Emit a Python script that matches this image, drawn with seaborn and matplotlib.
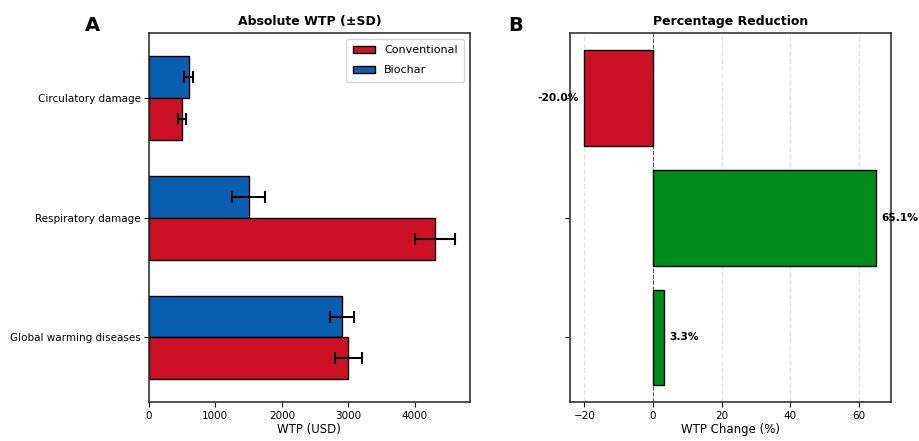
import matplotlib
matplotlib.use("Agg")
import matplotlib.pyplot as plt
import seaborn as sns
import pandas as pd
import numpy as np

categories = ["Circulatory damage", "Respiratory damage", "Global warming diseases"]
conventional = [500, 4300, 3000]
conventional_sd = [55, 300, 200]
biochar = [600, 1500, 2900]
biochar_sd = [65, 250, 180]
pct_change = [-20.0, 65.1, 3.3]
scenarios = ["Conventional", "Biochar"]

RED = "#cc1126"
BLUE = "#0a5fb0"
GREEN = "#008c1a"

sns.set_theme(style="ticks")
plt.rcParams["font.family"] = ["DejaVu Sans"]
plt.rcParams["text.color"] = "black"
plt.rcParams["axes.labelcolor"] = "black"
plt.rcParams["xtick.color"] = "black"
plt.rcParams["ytick.color"] = "black"

df = pd.DataFrame({
    "category": categories * 2,
    "scenario": ["Conventional"] * 3 + ["Biochar"] * 3,
    "wtp": conventional + biochar,
    "sd": conventional_sd + biochar_sd,
})

fig, (ax1, ax2) = plt.subplots(1, 2, figsize=(9.19, 4.41), dpi=100, sharey=True)
fig.subplots_adjust(left=0.162, right=0.9695, top=0.925, bottom=0.088, wspace=0.311)

# Panel A
sns.barplot(data=df, y="category", x="wtp", hue="scenario", order=categories,
            hue_order=["Biochar", "Conventional"],
            palette={"Conventional": RED, "Biochar": BLUE}, saturation=1,
            width=0.7, edgecolor="black", linewidth=1.0, errorbar=None, ax=ax1)
for cont, label in zip(ax1.containers, ["Biochar", "Conventional"]):
    vals = df[df.scenario == label].set_index("category").loc[categories]
    ys = [p.get_y() + p.get_height() / 2 for p in cont.patches]
    ax1.errorbar(vals["wtp"].values, ys, xerr=vals["sd"].values, fmt="none",
                 ecolor="black", elinewidth=1.5, capsize=4, capthick=1.5)
handles, labels = ax1.get_legend_handles_labels()
order = [labels.index(s) for s in scenarios]
ax1.legend([handles[i] for i in order], [labels[i] for i in order],
           loc="upper right", fontsize=8, frameon=True, fancybox=True,
           labelspacing=0.9, borderpad=0.6, handlelength=2.0, handleheight=0.6)
ax1.set_title("Absolute WTP (±SD)", fontsize=9, fontweight="bold", pad=6)
ax1.set_xlabel("WTP (USD)", fontsize=8.5, labelpad=2)
ax1.set_ylabel("")
ax1.tick_params(labelsize=7.5, pad=2.5, length=3.5, width=0.8)
ax1.set_xlim(0, 4830)

# Panel B
dfp = pd.DataFrame({"category": categories, "pct": pct_change})
dfp["sign"] = np.where(dfp["pct"] < 0, "neg", "pos")
sns.barplot(data=dfp, y="category", x="pct", hue="sign", order=categories,
            palette={"neg": RED, "pos": GREEN}, saturation=1, dodge=False, width=0.8,
            edgecolor="black", linewidth=1.0, legend=False, ax=ax2)
ax2.axvline(0, color="black", linestyle="--", linewidth=0.8, alpha=0.6)
ax2.grid(axis="x", linestyle="--", alpha=0.6)
ax2.set_axisbelow(True)
for i, v in enumerate(pct_change):
    if v < 0:
        ax2.text(v - 1.5, i, f"{v:.1f}%", ha="right", va="center", fontsize=7.7, fontweight="bold")
    else:
        ax2.text(v + 1.5, i, f"{v:.1f}%", ha="left", va="center", fontsize=7.7, fontweight="bold")
ax2.set_title("Percentage Reduction", fontsize=9, fontweight="bold", pad=6)
ax2.set_xlabel("WTP Change (%)", fontsize=8.5, labelpad=2)
ax2.set_ylabel("")
ax2.tick_params(labelsize=7.5, labelleft=False, pad=2.5, length=3.5, width=0.8)
ax2.set_xlim(-24.26, 69.36)
ax2.set_ylim(2.54, -0.54)

for ax in (ax1, ax2):
    for s in ax.spines.values():
        s.set_linewidth(1.2)
        s.set_color("#333333")

fig.text(0.101, 0.943, "A", fontsize=14, fontweight="bold", ha="center", va="center")
fig.text(0.561, 0.943, "B", fontsize=14, fontweight="bold", ha="center", va="center")

fig.savefig("out.png", dpi=100)
